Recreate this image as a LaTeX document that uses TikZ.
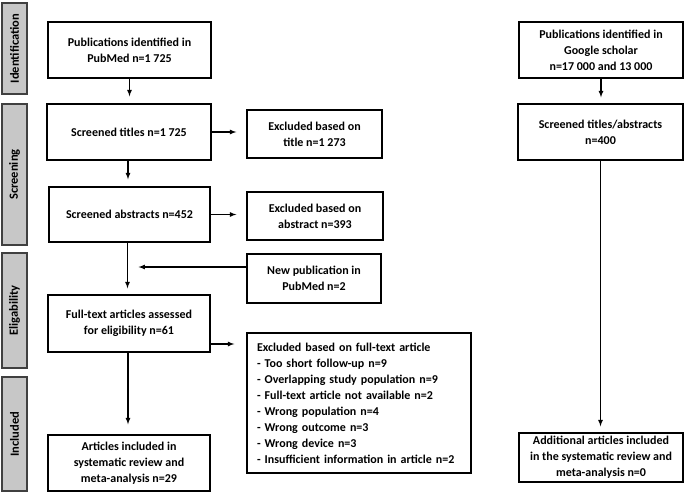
\documentclass[tikz,border=0pt]{standalone}
\usepackage{fontspec}
\setmainfont{Carlito}
\usepackage{tikz}
\usetikzlibrary{arrows}
\tikzset{>=latex}

\begin{document}
\begin{tikzpicture}[x = 1pt, y = -1pt,
  box/.style = {draw, line width = 1.4pt, align = center, inner sep = 2pt,
    font = \bfseries\fontsize{12}{16}\selectfont},
  stage/.style = {draw = black!75, fill = black!22, line width = 1.4pt, rotate = 90,
    minimum height = 25pt, inner sep = 0pt, font = \bfseries\fontsize{12.5}{14}\selectfont},
  link/.style = {->, >=latex, line width = 1.2pt}]
\useasboundingbox (0, 0) rectangle (684, 493); % page size

% stages
\node[stage, minimum width = 91pt] (ident) at (14.5, 48.5) {Identification};
\node[stage, minimum width = 141pt] (screen) at (14.5, 174.5) {Screening};
\node[stage, minimum width = 115pt] (elig) at (14.5, 310.5) {Eligability};
\node[stage, minimum width = 114pt] (incl) at (14.5, 434) {Included};

% PubMed column
\node[box, minimum width = 163pt, minimum height = 56pt] (pubmed) at (129.5, 50)
{Publications identified in \\ PubMed n=1 725};
\node[box, minimum width = 164pt, minimum height = 56pt] (titles) at (129, 132)
{Screened titles n=1 725};
\node[box, minimum width = 161pt, minimum height = 55pt] (abstracts) at (129.5, 214.5)
{Screened abstracts n=452};
\node[box, minimum width = 162pt, minimum height = 57pt] (fulltext) at (129, 323.5)
{Full-text articles assessed \\ for eligibility n=61};
\node[box, minimum width = 162pt, minimum height = 56pt] (included) at (129, 463)
{Articles included in \\ systematic review and \\ meta-analysis n=29};

% exclusions
\node[box, minimum width = 135pt, minimum height = 48pt] (extitle) at (314.5, 134)
{Excluded based on \\ title n=1 273};
\node[box, minimum width = 136pt, minimum height = 48pt] (exabstract) at (315, 216)
{Excluded based on \\ abstract n=393};
\node[box, minimum width = 134pt, minimum height = 49pt] (newpub) at (314, 278.5)
{New publication in \\ PubMed n=2};
\node[box, align = left, text width = 204pt, inner xsep = 10pt, minimum height = 140pt] (exfull) at (359, 403)
{Excluded based on full-text article \\
- Too short follow-up n=9 \\
- Overlapping study population n=9 \\
- Full-text article not available n=2 \\
- Wrong population n=4 \\
- Wrong outcome n=3 \\
- Wrong device n=3 \\
- Insufficient information in article n=2};

% Google scholar column
\node[box, minimum width = 164pt, minimum height = 56pt] (scholar) at (601, 50)
{Publications identified in \\ Google scholar \\ n=17 000 and 13 000};
\node[box, minimum width = 165pt, minimum height = 56pt] (scholarscreen) at (600.5, 132)
{Screened titles/abstracts \\ n=400};
\node[box, minimum width = 164pt, minimum height = 49pt] (additional) at (601, 457.5)
{Additional articles included \\ in the systematic review and \\ meta-analysis n=0};

\draw[link, shorten > = 7pt] (pubmed.south) -- (pubmed.south |- titles.north);
\draw[link, shorten > = 7pt] ([xshift = -1pt]titles.south) -- ([xshift = -1pt]titles.south |- abstracts.north);
\draw[link, shorten > = 10pt] (titles.east) -- (titles.east -| extitle.west);
\draw[link, shorten > = 10pt] (abstracts.east) -- (abstracts.east -| exabstract.west);
\draw[link, shorten > = 6pt] ([xshift = -2pt]abstracts.south) -- ([xshift = -2pt]abstracts.south |- fulltext.north);
\draw[link, shorten > = 9pt] ([yshift = 11.5pt]newpub.west) -- ([yshift = 11.5pt]newpub.west -| abstracts.south);
\draw[link, shorten > = 12pt] ([yshift = -20.5pt]fulltext.east) -- ([yshift = -20.5pt]fulltext.east -| exfull.west);
\draw[link, shorten > = 10pt] ([xshift = -1pt]fulltext.south) -- ([xshift = -1pt]fulltext.south |- included.north);
\draw[link, shorten > = 6pt] (scholar.south) -- (scholar.south |- scholarscreen.north);
\draw[link, shorten > = 6pt] (scholarscreen.south) -- (scholarscreen.south |- additional.north);

\end{tikzpicture}
\end{document}
